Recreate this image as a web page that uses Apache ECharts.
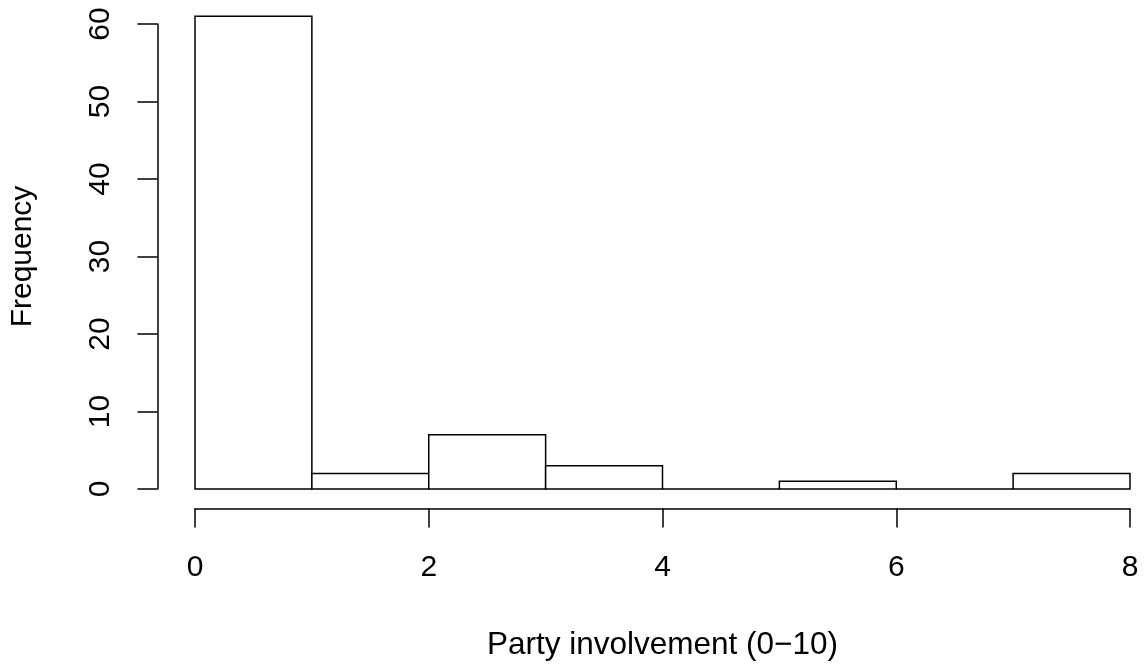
<!DOCTYPE html>
<html>
<head>
<meta charset="utf-8">
<script src="https://cdn.jsdelivr.net/npm/echarts@6/dist/echarts.min.js"></script>
<style>
  html, body { margin: 0; padding: 0; background: #ffffff; }
  #chart { width: 1144px; height: 665px; }
</style>
</head>
<body>
<div id="chart"></div>
<script>
// Histogram bins (break points) and their frequencies
const binEdges = [0, 1, 2, 3, 4, 5, 6, 7, 8];
const counts = [61, 2, 7, 3, 0, 1, 0, 2];
const xTicks = [0, 2, 4, 6, 8];
const yTicks = [0, 10, 20, 30, 40, 50, 60];
const xTitle = 'Party involvement (0\u221210)';
const yTitle = 'Frequency';

const FONT = "'Liberation Sans', Arial, Helvetica, sans-serif";
const INK = '#000000';
const LW = 1.5;

const histData = counts.map((c, i) => [binEdges[i], binEdges[i + 1], c]);

const chart = echarts.init(document.getElementById('chart'), null, { renderer: 'canvas' });

chart.setOption({
  animation: false,
  backgroundColor: '#ffffff',
  grid: { left: 195, right: 14, top: 24, bottom: 176, containLabel: false, outerBoundsMode: 'none' },
  xAxis: {
    type: 'value',
    min: xTicks[0],
    max: xTicks[xTicks.length - 1],
    interval: 2,
    offset: 19.5,
    axisLine: { show: true, onZero: false, lineStyle: { color: INK, width: LW } },
    axisTick: { show: true, inside: false, length: 19, lineStyle: { color: INK, width: LW } },
    axisLabel: { color: INK, fontFamily: FONT, fontSize: 30, margin: 44 },
    splitLine: { show: false },
    name: xTitle,
    nameLocation: 'middle',
    nameGap: 121,
    nameTextStyle: { color: INK, fontFamily: FONT, fontSize: 31.5 }
  },
  yAxis: {
    type: 'value',
    min: yTicks[0],
    max: yTicks[yTicks.length - 1],
    interval: 10,
    offset: 37.5,
    axisLine: { show: true, onZero: false, lineStyle: { color: INK, width: LW } },
    axisTick: { show: true, inside: false, length: 20, lineStyle: { color: INK, width: LW } },
    axisLabel: { color: INK, fontFamily: FONT, fontSize: 30, rotate: 90, margin: 42 },
    splitLine: { show: false },
    name: yTitle,
    nameLocation: 'middle',
    nameGap: 120,
    nameRotate: 90,
    nameTextStyle: { color: INK, fontFamily: FONT, fontSize: 30 }
  },
  series: [{
    type: 'custom',
    clip: false,
    data: histData,
    renderItem: function (params, api) {
      const x0 = api.value(0), x1 = api.value(1), y = api.value(2);
      const p0 = api.coord([x0, y]);
      const p1 = api.coord([x1, 0]);
      return {
        type: 'rect',
        shape: { x: p0[0], y: p0[1], width: p1[0] - p0[0], height: p1[1] - p0[1] },
        style: { fill: '#ffffff', stroke: INK, lineWidth: LW }
      };
    }
  }]
});
</script>
</body>
</html>
